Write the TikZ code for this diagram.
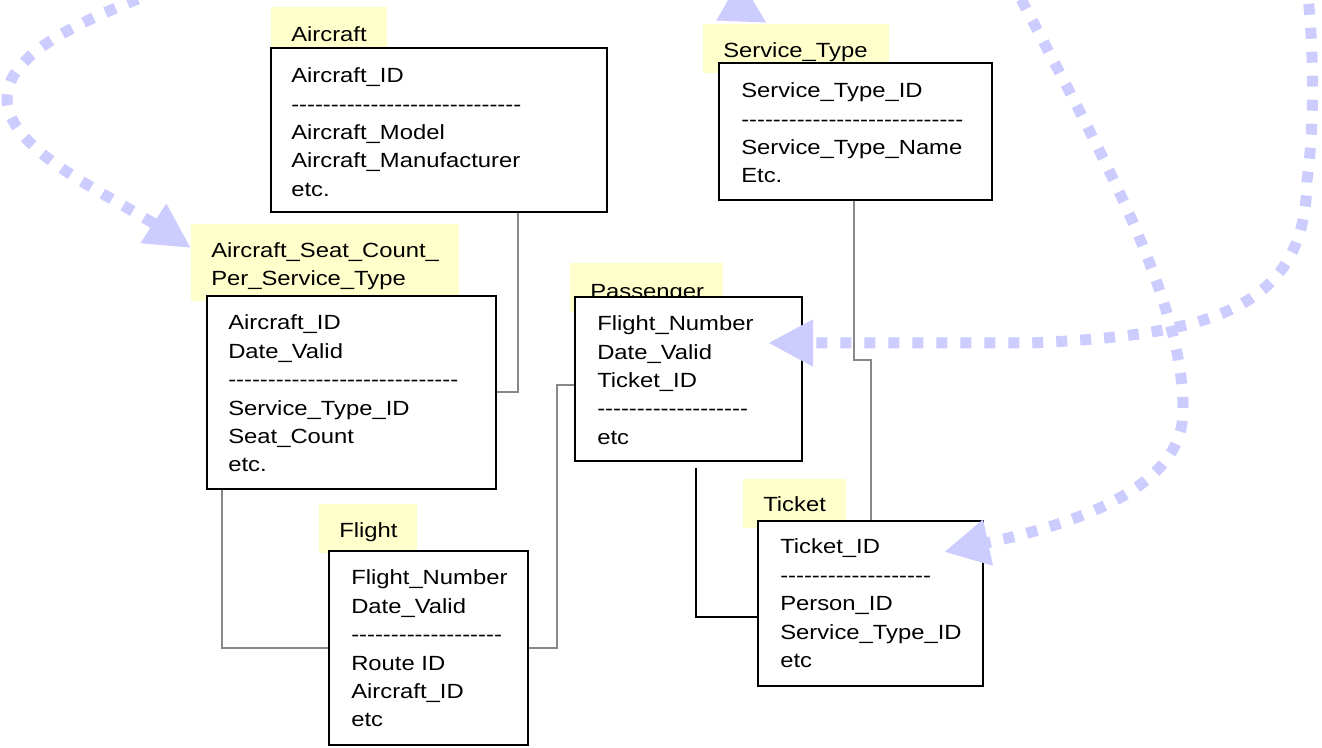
\documentclass[tikz,border=0pt]{standalone}
\usepackage{fontspec}
\setmainfont{Liberation Sans}[FakeStretch=1.16]
\usetikzlibrary{arrows.meta}
\definecolor{lblyellow}{RGB}{255,255,204}
\definecolor{dotblue}{RGB}{204,204,255}
\definecolor{conngray}{RGB}{136,136,136}
\newcount\dcnt
\newcommand\dashes[1]{\dcnt=0\relax\loop\ifnum\dcnt<#1\relax-\kern0pt\advance\dcnt by 1\relax\repeat}
\newcommand\fs{\fontsize{15.4pt}{21.3pt}\selectfont}
\newcommand\rows[1]{\begin{tabular}[t]{@{}l@{}}#1\end{tabular}}
\newcommand\px[1]{#1*0.75pt}
\tikzset{
  box/.style={draw=black, line width=1.5pt, fill=white, inner sep=0pt},
  lblbox/.style={fill=lblyellow, draw=none, inner sep=0pt},
  txt/.style={anchor=base west, inner sep=0pt, font=\fs},
  conn/.style={draw=conngray, line width=1.1pt},
  connblk/.style={draw=black, line width=1.5pt},
  dotarrow/.style={draw=dotblue, line width=8.25pt, dash pattern=on 8.25pt off 9.75pt,
    -{Triangle[length=33.75pt,width=33pt]}}
}
\begin{document}
\begin{tikzpicture}[x=0.75pt,y=-0.75pt]
\useasboundingbox (0,0) rectangle (1322,748);
\clip (0,0) rectangle (1322,748);
% label backgrounds
\node[lblbox, minimum width=\px{116}, minimum height=\px{49}] (aircraftLbox) at (329,31.5) {};
\node[lblbox, minimum width=\px{268}, minimum height=\px{77}] (ascLbox) at (325,262.5) {};
\node[lblbox, minimum width=\px{153}, minimum height=\px{49}] (passLbox) at (646.5,287.5) {};
\node[lblbox, minimum width=\px{186}, minimum height=\px{49}] (servLbox) at (796,48.5) {};
\node[lblbox, minimum width=\px{103}, minimum height=\px{49}] (tickLbox) at (794.5,503.5) {};
\node[lblbox, minimum width=\px{98}, minimum height=\px{49}] (flightLbox) at (368,528.5) {};
% label texts
\node[txt] (aircraftL) at (291,42) {Aircraft};
\node[txt] (ascL) at (211,258) {\rows{Aircraft\_Seat\_Count\_\\[-1pt]Per\_Service\_Type}};
\node[txt] (passL) at (590,298.5) {Passenger};
\node[txt] (servL) at (723,57.3) {Service\_Type};
\node[txt] (tickL) at (763,512) {Ticket};
\node[txt] (flightL) at (339,538) {Flight};
% boxes
\node[box, minimum width=\px{336}, minimum height=\px{164}] (aircraft) at (439,130) {};
\node[box, minimum width=\px{289}, minimum height=\px{193}] (asc) at (351.5,392.5) {};
\node[box, minimum width=\px{227}, minimum height=\px{164}] (passenger) at (688.5,379) {};
\node[box, minimum width=\px{273}, minimum height=\px{137}] (service) at (855.5,131.5) {};
\node[box, minimum width=\px{225}, minimum height=\px{165}] (ticket) at (870.5,603.5) {};
\node[box, minimum width=\px{199}, minimum height=\px{194}] (flight) at (428.5,648) {};
% contents
\node[txt] (aircraftT) at (291,82.7) {\rows{Aircraft\_ID\\\dashes{29}\\Aircraft\_Model\\Aircraft\_Manufacturer\\etc.}};
\node[txt] (ascT) at (228,330) {\rows{Aircraft\_ID\\Date\_Valid\\\dashes{29}\\Service\_Type\_ID\\Seat\_Count\\etc.}};
\node[txt] (passT) at (597,330.7) {\rows{Flight\_Number\\Date\_Valid\\Ticket\_ID\\\dashes{19}\\etc}};
\node[txt] (servT) at (741,97.7) {\rows{Service\_Type\_ID\\\dashes{28}\\Service\_Type\_Name\\Etc.}};
\node[txt] (tickT) at (780,554) {\rows{Ticket\_ID\\\dashes{19}\\Person\_ID\\Service\_Type\_ID\\etc}};
\node[txt] (flightT) at (351,585) {\rows{Flight\_Number\\Date\_Valid\\\dashes{19}\\Route ID\\Aircraft\_ID\\etc}};
% connectors
\draw[conn] (aircraft.south west) ++(248,0) |- (asc.east |- 0,392);
\draw[conn] (asc.south west) ++(16,0) |- (flight.west |- 0,648);
\draw[conn] (flight.east |- 0,648) -- ++(28,0) |- (passenger.west |- 0,385);
\draw[connblk] (passenger.south west) ++(122,6) |- (ticket.west |- 0,617);
\draw[conn] (service.south west) ++(136,0) |- (871,360) -- (ticket.north -| 871,0);
% dotted arrows
\coordinate (aS) at (160,-10);
\coordinate (aM) at (7,98);
\coordinate (aT) at (191,248);
\draw[dotarrow] (aS) .. controls (90,18) and (8,50) .. (aM) .. controls (6,150) and (110,195) .. (aT);
\coordinate (bS) at (645.6,-48.8);
\coordinate (bT) at (767,23);
\draw[dotarrow] (bS) -- (bT);
\coordinate (cS) at (1010,-22);
\coordinate (cM) at (1183,410);
\coordinate (cT) at (944,552);
\draw[dotarrow] (cS) .. controls (1100,150) and (1184,300) .. (cM) .. controls (1184,490) and (1070,525) .. (cT);
\coordinate (dS) at (1306,-20);
\coordinate (dM1) at (1307,181);
\coordinate (dM2) at (1030,343);
\coordinate (dT) at (768,343);
\draw[dotarrow] (dS) .. controls (1314,40) and (1315,120) .. (dM1) .. controls (1305,310) and (1210,335) .. (dM2) -- (dT);
\end{tikzpicture}
\end{document}
